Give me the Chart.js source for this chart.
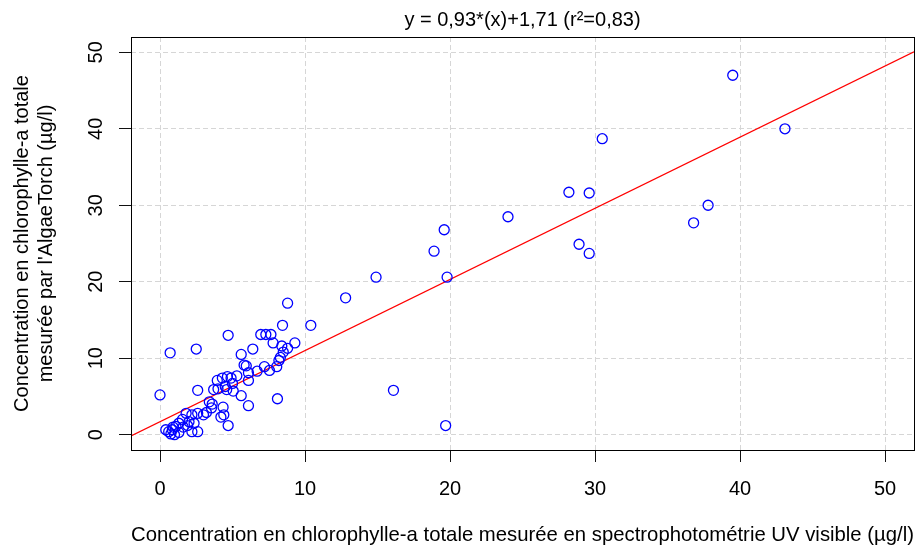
<!DOCTYPE html>
<html>
<head>
<meta charset="utf-8">
<script src="https://cdn.jsdelivr.net/npm/chart.js@4.4.1/dist/chart.umd.min.js"></script>
<style>
  body { margin: 0; background: #fff; }
</style>
</head>
<body>
<canvas id="plot" width="922" height="549"></canvas>
<script>
// chlorophylle-a : spectrophotometrie UV visible (x) vs AlgaeTorch (y), in ug/l
const spectro = [
  0.0, 0.7, 2.5, 4.7, 4.7, 6.95, 7.3, 7.65, 8.45, 10.4,
  8.8, 7.8, 9.3, 6.4, 5.6, 8.4, 8.8, 8.5, 8.3, 8.2,
  5.8, 5.95, 7.2, 7.55, 8.05, 6.7, 6.1, 6.1, 3.95, 4.3,
  4.65, 4.9, 5.3, 5.0, 4.5, 4.0, 3.7, 4.6, 5.05, 5.6,
  6.1, 8.1, 2.6, 3.4, 3.6, 3.55, 3.2, 4.35, 4.4, 4.2,
  1.8, 2.2, 2.6, 3.0, 2.0, 2.35, 1.55, 1.3, 1.1, 0.85,
  0.6, 0.4, 0.75, 1.0, 1.3, 2.2, 2.6, 1.6, 1.9, 0.9,
  12.8, 14.9, 16.1, 19.7, 19.8, 18.9, 19.6, 24.0, 28.2, 29.6,
  30.5, 28.9, 29.6, 36.8, 37.8, 39.5, 43.1
];
const algaeTorch = [
  5.2, 10.7, 11.2, 13.0, 1.2, 13.1, 13.1, 13.1, 14.3, 14.3,
  17.2, 12.0, 12.0, 11.2, 10.5, 11.6, 11.3, 10.8, 10.1, 9.7,
  9.1, 9.0, 8.9, 8.4, 8.9, 8.3, 8.1, 7.1, 7.1, 7.4,
  7.6, 7.4, 7.7, 6.7, 6.3, 6.0, 5.9, 5.9, 5.7, 5.1,
  3.8, 4.7, 5.8, 4.3, 4.0, 3.5, 2.9, 3.6, 2.6, 2.3,
  2.8, 2.6, 2.8, 2.6, 1.7, 1.5, 2.0, 1.5, 1.1, 0.65,
  0.4, 0.65, 0.1, 0.0, 0.3, 0.4, 0.4, 1.0, 1.2, 1.0,
  17.9, 20.6, 5.8, 1.2, 20.6, 24.0, 26.8, 28.5, 31.7, 31.6,
  38.7, 24.9, 23.7, 27.7, 30.0, 47.0, 40.0
];

// regression y = 0,93*(x)+1,71
const slope = 0.93;
const intercept = 1.71;
const fitX = [-2, 52];

const xTicks = [0, 10, 20, 30, 40, 50];
const yTicks = [0, 10, 20, 30, 40, 50];
const axisMin = -2, axisMax = 52;

const titleText = 'y = 0,93*(x)+1,71 (r²=0,83)';
const xTitle = 'Concentration en chlorophylle-a totale mesurée en spectrophotométrie UV visible (µg/l)';
const yTitle = ['Concentration en chlorophylle-a totale', "mesurée par l'AlgaeTorch (µg/l)"];

const font = { family: 'Liberation Sans, Arial, sans-serif', size: 20, lineHeight: 1.2 };
const xTitleFont = { family: 'Liberation Sans, Arial, sans-serif', size: 20.4, lineHeight: 1.2 };

const points = spectro.map((x, i) => ({ x: x, y: algaeTorch[i] }));
const fitLine = fitX.map(x => ({ x: x, y: intercept + slope * x }));

// plot frame like R's box()
const boxPlugin = {
  id: 'box',
  afterDatasetsDraw(chart) {
    const a = chart.chartArea, ctx = chart.ctx;
    ctx.save();
    ctx.strokeStyle = '#000';
    ctx.lineWidth = 1;
    ctx.strokeRect(Math.round(a.left) + 0.5, Math.round(a.top) + 0.5,
      Math.round(a.right - a.left), Math.round(a.bottom - a.top));
    ctx.restore();
  }
};

const gridOpts = {
  color: '#d6d6d6',
  lineWidth: 1,
  tickLength: 12,
  tickColor: '#111',
  tickWidth: 1,
  tickBorderDash: []
};

new Chart(document.getElementById('plot'), {
  type: 'scatter',
  data: {
    datasets: [{
      data: points,
      pointStyle: 'circle',
      pointRadius: 5,
      pointBorderWidth: 1.3,
      borderColor: '#0000ff',
      backgroundColor: 'rgba(0,0,0,0)',
      pointHoverRadius: 5
    }, {
      type: 'line',
      data: fitLine,
      borderColor: '#ff0000',
      borderWidth: 1.3,
      pointRadius: 0,
      fill: false
    }]
  },
  options: {
    responsive: false,
    animation: false,
    events: [],
    layout: { padding: { top: 0, right: 8, bottom: 0, left: 0 } },
    plugins: { legend: { display: false }, tooltip: { enabled: false } },
    scales: {
      x: {
        type: 'linear', position: 'bottom', min: axisMin, max: axisMax,
        afterBuildTicks: (scale) => { scale.ticks = xTicks.map(v => ({ value: v })); },
        afterFit: (scale) => { scale.height = 99; },
        grid: gridOpts,
        border: { display: false, dash: [5, 3] },
        ticks: { autoSkip: false, maxRotation: 0, color: '#000', font: font, padding: 15 },
        title: { display: true, text: xTitle, color: '#000', font: xTitleFont, padding: { top: 0, bottom: 1 } }
      },
      xTop: {
        type: 'linear', position: 'top', min: axisMin, max: axisMax,
        afterFit: (scale) => { scale.height = 37; },
        grid: { display: false },
        border: { display: false },
        ticks: { display: false },
        title: { display: true, text: titleText, color: '#000', font: font, padding: { top: 8, bottom: 0 } }
      },
      y: {
        type: 'linear', position: 'left', min: axisMin, max: axisMax,
        afterBuildTicks: (scale) => { scale.ticks = yTicks.map(v => ({ value: v })); },
        afterFit: (scale) => { scale.width = 131; },
        grid: gridOpts,
        border: { display: false, dash: [5, 3] },
        ticks: { autoSkip: false, minRotation: 90, maxRotation: 90, crossAlign: 'center', color: '#000', font: font, padding: 11 },
        title: { display: true, text: yTitle, color: '#000', font: font, padding: { top: 10, bottom: 0 } }
      }
    }
  },
  plugins: [boxPlugin]
});
</script>
</body>
</html>
